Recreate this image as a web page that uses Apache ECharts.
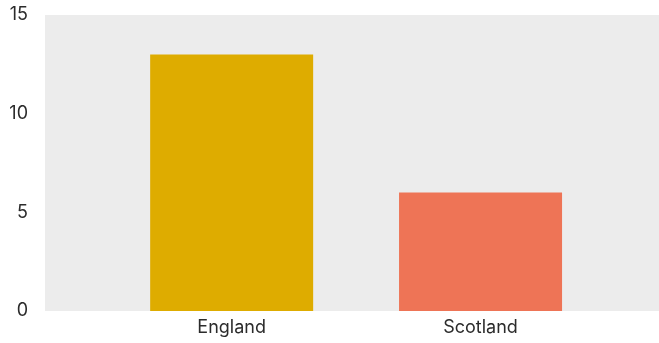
<!DOCTYPE html>
<html>
<head>
<meta charset="utf-8">
<script src="https://cdn.jsdelivr.net/npm/echarts@6/dist/echarts.min.js"></script>
<style>html,body{margin:0;padding:0;background:#fff}#c{width:659px;height:343px}</style>
</head>
<body>
<div id="c"></div>
<script>
var categories = ['England', 'Scotland'];
var values = [13, 6];
var colors = ['#DEAC00', '#EE7456'];
var yTicks = [0, 5, 10, 15];

var chart = echarts.init(document.getElementById('c'), null, {renderer: 'canvas'});
var positions = categories.map(function (c, i) { return i + 1; });
chart.setOption({
  animation: false,
  grid: {left: 45, right: 0, top: 15, bottom: 32, backgroundColor: '#ECECEC', show: true, borderWidth: 0},
  xAxis: {
    type: 'value', min: 0.25, max: 2.717,
    axisLine: {show: false}, axisTick: {show: false}, splitLine: {show: false},
    axisLabel: {
      customValues: positions,
      formatter: function (v) { return categories[Math.round(v) - 1] || ''; },
      color: '#2b2b2b', fontFamily: 'Inter', fontSize: 18, margin: 8
    }
  },
  yAxis: {
    type: 'value', min: 0, max: 15, interval: 5,
    axisLine: {show: false}, axisTick: {show: false}, splitLine: {show: false},
    axisLabel: {
      customValues: yTicks,
      color: '#2b2b2b', fontFamily: 'Inter', fontSize: 18, margin: 17
    }
  },
  series: [{
    type: 'bar', barWidth: 163,
    data: values.map(function (v, i) { return {value: [positions[i], v], itemStyle: {color: colors[i]}}; })
  }]
});
</script>
</body>
</html>
